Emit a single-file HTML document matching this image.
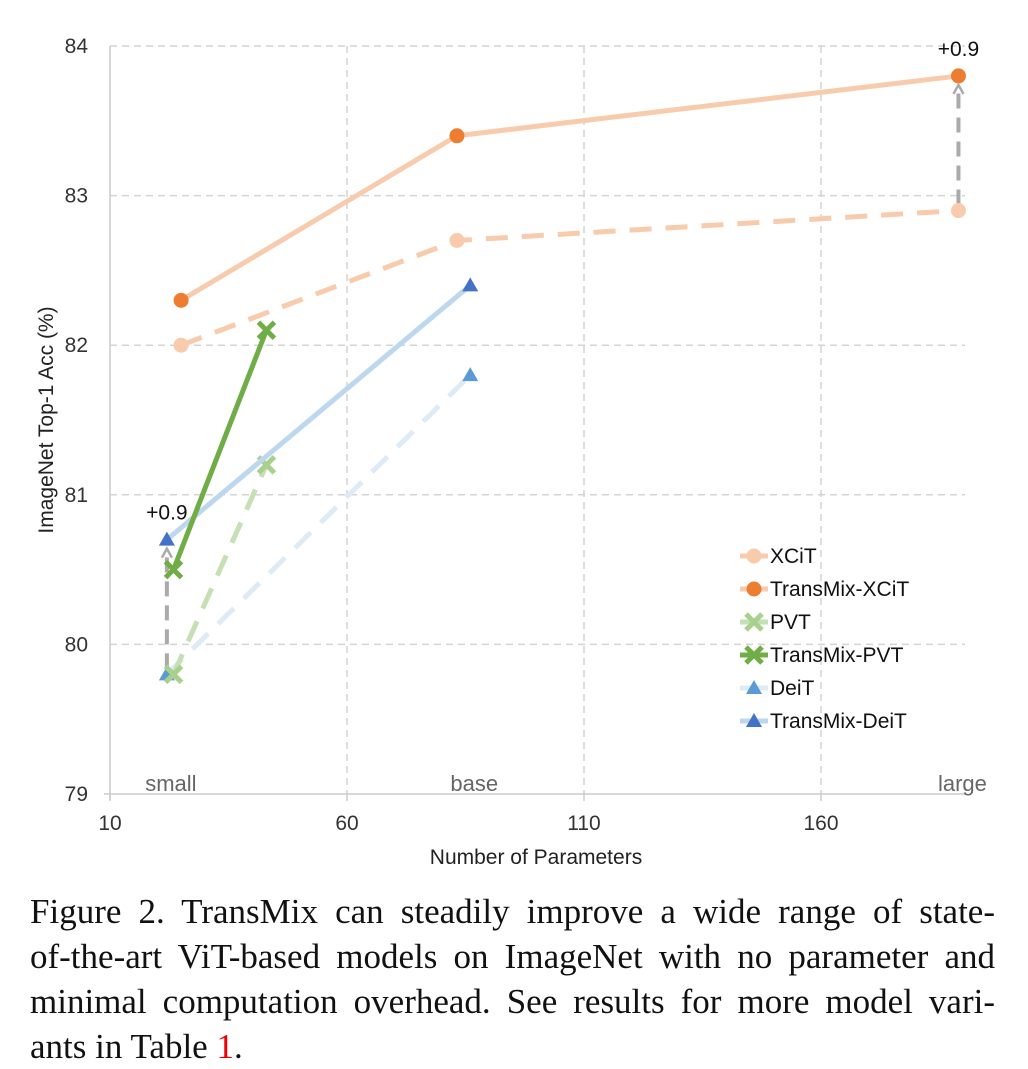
<!DOCTYPE html>
<html><head><meta charset="utf-8"><style>
body{margin:0;background:#fff;width:1028px;height:1069px;overflow:hidden}
svg text{font-family:"Liberation Sans",sans-serif}
.cap{position:absolute;left:30px;top:889px;width:965px;font-family:"Liberation Serif",serif;font-size:35px;line-height:45px;color:#111}
.cap div{text-align:justify;text-align-last:justify;white-space:nowrap}
.cap div.last{text-align-last:left}
</style></head><body>
<svg width="1028" height="880" style="position:absolute;left:0;top:0" id="chart"></svg>
<div class="cap">
<div>Figure 2. TransMix can steadily improve a wide range of state-</div>
<div>of-the-art ViT-based models on ImageNet with no parameter and</div>
<div>minimal computation overhead. See results for more model vari-</div>
<div class="last">ants in Table <span style="color:#e00">1</span>.</div>
</div>
<script>
const xTicks=[10,60,110,160];
const yTicks=[79,80,81,82,83,84];
const xcitX=[25,83.2,189], xcit=[82.0,82.7,82.9], tmXcit=[82.3,83.4,83.8];
const pvtX=[23.4,43], pvt=[79.8,81.2], tmPvt=[80.5,82.1];
const deitX=[22,86], deit=[79.8,81.8], tmDeit=[80.7,82.4];
const sizeLabels=["small","base","large"];
const sizeLabelX=[22,86,189];
const gains=["+0.9","+0.9"];

const svg=document.getElementById('chart');
const NS='http://www.w3.org/2000/svg';
const X=v=>110+(v-10)*4.74;
const Y=v=>794-(v-79)*149.6;
function el(tag,attrs,name,inter){const e=document.createElementNS(NS,tag);for(const k in attrs)e.setAttribute(k,attrs[k]);


svg.appendChild(e);return e;}
yTicks.forEach(t=>{ if(t>79) el('line',{x1:110,x2:965,y1:Y(t),y2:Y(t),stroke:'#d4d4d4','stroke-width':1.5,'stroke-dasharray':'7,5'},'y-gridline');
 const tx=el('text',{x:88,y:Y(t)+7,'text-anchor':'end','font-size':21,fill:'#333'},'y-tick-label');tx.textContent=t;});
xTicks.forEach(t=>{ if(t>10) el('line',{x1:X(t),x2:X(t),y1:46,y2:794,stroke:'#d4d4d4','stroke-width':1.5,'stroke-dasharray':'7,5'},'x-gridline');
 el('line',{x1:X(t),x2:X(t),y1:794,y2:801,stroke:'#ccc','stroke-width':1.5},'x-tick');
 const tx=el('text',{x:X(t),y:830,'text-anchor':'middle','font-size':21,fill:'#333'},'x-tick-label');tx.textContent=t;});
el('line',{x1:110,x2:110,y1:46,y2:800,stroke:'#ccc','stroke-width':1.5},'y-axis-line');
el('line',{x1:104,x2:965,y1:794,y2:794,stroke:'#ccc','stroke-width':1.5},'x-axis-line');
let t=el('text',{x:536,y:864,'text-anchor':'middle','font-size':21,fill:'#222'},'x-axis-title');t.textContent='Number of Parameters';
t=el('text',{x:0,y:0,'text-anchor':'middle','font-size':21,fill:'#222',transform:'translate(53,420) rotate(-90)'},'y-axis-title');t.textContent='ImageNet Top-1 Acc (%)';
sizeLabels.forEach((s,i)=>{const tx=el('text',{x:X(sizeLabelX[i])+4,y:791,'text-anchor':'middle','font-size':22,fill:'#666'},'size-label-'+s);tx.textContent=s;});
function arrow(xv,y0,y1,lab){el('line',{x1:X(xv),x2:X(xv),y1:Y(y0)-6,y2:Y(y1)+14,stroke:'#aaa','stroke-width':4,'stroke-dasharray':'15,9'},'gain-arrow');
 el('path',{d:`M${X(xv)-5} ${Y(y1)+18} L${X(xv)} ${Y(y1)+9} L${X(xv)+5} ${Y(y1)+18}`,fill:'none',stroke:'#aaa','stroke-width':2.5},'gain-arrowhead');
 const tx=el('text',{x:X(xv),y:Y(y1)-20,'text-anchor':'middle','font-size':21,fill:'#111'},'gain-label');tx.textContent=lab;}
arrow(deitX[0],deit[0],tmDeit[0],gains[0]);
arrow(xcitX[2],xcit[2],tmXcit[2],gains[1]);
function series(xs,ys,color,dash,name,mk,mc){
 el('polyline',{points:xs.map((x,i)=>X(x)+','+Y(ys[i])).join(' '),fill:'none',stroke:color,'stroke-width':5,'stroke-dasharray':dash||'none'},name+'-line');
 xs.forEach((x,i)=>marker(X(x),Y(ys[i]),mk,mc,name+'-point'));}
function marker(cx,cy,mk,mc,name){
 if(mk==='o')el('circle',{cx,cy,r:7.5,fill:mc},name);
 else if(mk==='x')el('path',{d:`M${cx-8} ${cy-8}L${cx+8} ${cy+8}M${cx+8} ${cy-8}L${cx-8} ${cy+8}`,stroke:mc,'stroke-width':5},name);
 else el('path',{d:`M${cx} ${cy-8}L${cx+8} ${cy+6}L${cx-8} ${cy+6}Z`,fill:mc},name);}
series(deitX,deit,'#ddebf7','22,14','deit','t','#5b9bd5');
series(pvtX,pvt,'#c5e0b4','22,14','pvt','x','#a9d18e');
series(xcitX,xcit,'#f8cbad','22,14','xcit','o','#f8cbad');
series(deitX,tmDeit,'#bdd7ee',null,'transmix-deit','t','#4472c4');
series(pvtX,tmPvt,'#70ad47',null,'transmix-pvt','x','#70ad47');
series(xcitX,tmXcit,'#f8cbad',null,'transmix-xcit','o','#ed7d31');
const leg=[['XCiT','#f8cbad','o','#f8cbad'],['TransMix-XCiT','#f8cbad','o','#ed7d31'],['PVT','#c5e0b4','x','#a9d18e'],['TransMix-PVT','#70ad47','x','#70ad47'],['DeiT','#ddebf7','t','#5b9bd5'],['TransMix-DeiT','#bdd7ee','t','#4472c4']];
leg.forEach((l,i)=>{const y=556+i*33;
 el('line',{x1:740,x2:768,y1:y,y2:y,stroke:l[1],'stroke-width':5},'legend-line');
 marker(754,y,l[2],l[3],'legend-marker');
 const tx=el('text',{x:770,y:y+7,'font-size':21,fill:'#111'},'legend-entry');tx.textContent=l[0];});
</script>
</body></html>
